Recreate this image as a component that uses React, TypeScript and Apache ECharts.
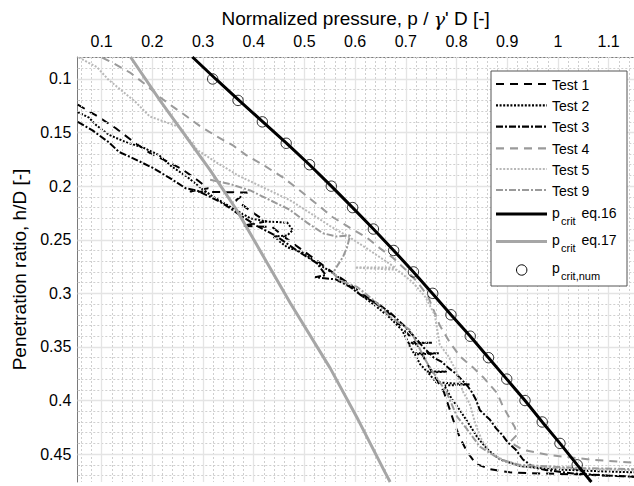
import React, { useEffect, useRef } from "react";
import * as echarts from "echarts";

const FONT = "'Liberation Sans', Arial, Helvetica, sans-serif";

// axis ranges
const X_MIN = 0.052;
const X_MAX = 1.15;
const Y_MIN = 0.0795;
const Y_MAX = 0.476;

// tick labels / ticks
const xMajorTicks = [0.1, 0.2, 0.3, 0.4, 0.5, 0.6, 0.7, 0.8, 0.9, 1, 1.1];
const yMajorTicks = [0.1, 0.15, 0.2, 0.25, 0.3, 0.35, 0.4, 0.45];
const xMinorTicks = Array.from({ length: 55 }, (_, i) => +(0.06 + i * 0.02).toFixed(2)).filter(
  (v) => v < X_MAX && Math.abs(v * 10 - Math.round(v * 10)) > 1e-6
);
const yMinorTicks = Array.from({ length: 40 }, (_, i) => +(0.08 + i * 0.01).toFixed(2)).filter(
  (v) => v < Y_MAX && Math.abs(v * 20 - Math.round(v * 20)) > 1e-6
);

// measured curves: [p/(gamma' D), h/D]
const test1 = [
  [0.053, 0.124], [0.089, 0.134], [0.128, 0.146], [0.164, 0.159], [0.195, 0.169], [0.225, 0.176],
  [0.258, 0.184], [0.288, 0.194], [0.31, 0.202], [0.274, 0.205], [0.387, 0.206], [0.365, 0.213],
  [0.396, 0.224], [0.424, 0.233], [0.377, 0.237], [0.436, 0.238], [0.462, 0.248], [0.491, 0.258],
  [0.523, 0.269], [0.554, 0.28], [0.582, 0.289], [0.61, 0.299], [0.637, 0.308], [0.665, 0.318],
  [0.688, 0.33], [0.712, 0.342], [0.728, 0.353], [0.74, 0.364], [0.759, 0.379], [0.775, 0.392],
  [0.787, 0.409], [0.797, 0.423], [0.807, 0.435], [0.821, 0.448], [0.838, 0.459], [0.866, 0.464],
  [0.905, 0.467], [0.965, 0.468], [1.043, 0.469], [1.15, 0.471],
];
const test2 = [
  [0.053, 0.131], [0.075, 0.136], [0.089, 0.143], [0.114, 0.152], [0.148, 0.159], [0.182, 0.164],
  [0.213, 0.171], [0.239, 0.182], [0.268, 0.191], [0.294, 0.201], [0.32, 0.21], [0.353, 0.219],
  [0.393, 0.23], [0.426, 0.233], [0.466, 0.234], [0.477, 0.241], [0.466, 0.246], [0.438, 0.247],
  [0.466, 0.257], [0.497, 0.262], [0.525, 0.272], [0.556, 0.281], [0.586, 0.292], [0.613, 0.302],
  [0.641, 0.312], [0.669, 0.323], [0.692, 0.334], [0.705, 0.346], [0.752, 0.346], [0.705, 0.347],
  [0.716, 0.356], [0.765, 0.356], [0.718, 0.357], [0.728, 0.366], [0.742, 0.373], [0.781, 0.373],
  [0.744, 0.374], [0.76, 0.383], [0.826, 0.385], [0.776, 0.386], [0.79, 0.398], [0.808, 0.41],
  [0.826, 0.423], [0.842, 0.435], [0.862, 0.446], [0.886, 0.455], [0.925, 0.461], [0.984, 0.464],
  [1.083, 0.466], [1.15, 0.467],
];
const test3 = [
  [0.053, 0.14], [0.082, 0.148], [0.114, 0.159], [0.134, 0.168], [0.162, 0.174], [0.201, 0.183],
  [0.233, 0.192], [0.266, 0.202], [0.288, 0.204], [0.314, 0.21], [0.339, 0.216], [0.373, 0.227],
  [0.406, 0.237], [0.446, 0.247], [0.485, 0.26], [0.525, 0.272], [0.542, 0.283], [0.521, 0.285],
  [0.562, 0.287], [0.59, 0.294], [0.615, 0.303], [0.643, 0.309], [0.669, 0.318], [0.694, 0.329],
  [0.716, 0.34], [0.736, 0.351], [0.755, 0.36], [0.771, 0.364], [0.785, 0.37], [0.799, 0.375],
  [0.811, 0.381], [0.821, 0.386], [0.83, 0.392], [0.838, 0.399], [0.846, 0.409], [0.866, 0.418],
  [0.878, 0.426], [0.89, 0.432], [0.901, 0.439], [0.917, 0.446], [0.931, 0.455], [0.951, 0.462],
  [0.978, 0.465], [1.03, 0.468], [1.097, 0.47], [1.15, 0.471],
];
const test4 = [
  [0.101, 0.08], [0.122, 0.085], [0.156, 0.094], [0.189, 0.106], [0.215, 0.117], [0.241, 0.126],
  [0.268, 0.135], [0.294, 0.144], [0.325, 0.153], [0.359, 0.162], [0.385, 0.171], [0.418, 0.18],
  [0.458, 0.192], [0.491, 0.204], [0.525, 0.217], [0.556, 0.229], [0.59, 0.239], [0.623, 0.248],
  [0.649, 0.258], [0.675, 0.267], [0.702, 0.279], [0.722, 0.289], [0.744, 0.303], [0.755, 0.316],
  [0.767, 0.33], [0.787, 0.346], [0.807, 0.359], [0.832, 0.369], [0.852, 0.378], [0.88, 0.393],
  [0.892, 0.406], [0.915, 0.425], [0.919, 0.432], [0.905, 0.439], [0.931, 0.446], [0.984, 0.451],
  [1.063, 0.455], [1.15, 0.458],
];
const test5 = [
  [0.055, 0.08], [0.091, 0.089], [0.114, 0.101], [0.14, 0.111], [0.168, 0.122], [0.195, 0.135],
  [0.225, 0.14], [0.254, 0.145], [0.288, 0.166], [0.327, 0.178], [0.373, 0.191], [0.418, 0.201],
  [0.471, 0.213], [0.511, 0.225], [0.55, 0.237], [0.59, 0.248], [0.629, 0.26], [0.679, 0.276],
  [0.6, 0.276], [0.682, 0.278], [0.712, 0.289], [0.738, 0.303], [0.757, 0.32], [0.767, 0.348],
  [0.783, 0.358], [0.799, 0.372], [0.813, 0.392], [0.826, 0.403], [0.838, 0.423], [0.85, 0.437],
  [0.866, 0.449], [0.899, 0.457], [0.931, 0.462], [0.998, 0.463], [1.15, 0.465],
];
const test9 = [
  [0.314, 0.194], [0.353, 0.198], [0.393, 0.204], [0.432, 0.213], [0.471, 0.222], [0.505, 0.234],
  [0.537, 0.244], [0.564, 0.247], [0.59, 0.246], [0.584, 0.257], [0.576, 0.266], [0.564, 0.275],
  [0.556, 0.281], [0.57, 0.288], [0.604, 0.294], [0.643, 0.309], [0.669, 0.322], [0.708, 0.334],
  [0.742, 0.365], [0.781, 0.393], [0.801, 0.415], [0.821, 0.427], [0.846, 0.443], [0.886, 0.455],
  [0.925, 0.46], [1.043, 0.463], [1.15, 0.464],
];

// analytical curves
const eq16H = [0.0795, 0.1, 0.12, 0.14, 0.16, 0.18, 0.2, 0.22, 0.24, 0.26, 0.28, 0.3, 0.32, 0.34, 0.36, 0.38, 0.4, 0.42, 0.44, 0.46, 0.476];
const eq16P = [0.279, 0.325, 0.371, 0.418, 0.465, 0.51, 0.553, 0.595, 0.636, 0.676, 0.715, 0.752, 0.789, 0.827, 0.863, 0.899, 0.935, 0.969, 1.004, 1.038, 1.066];
const eq17H = [0.0795, 0.12, 0.185, 0.222, 0.309, 0.37, 0.418, 0.467, 0.476];
const eq17P = [0.157, 0.215, 0.314, 0.366, 0.472, 0.551, 0.606, 0.659, 0.669];

// numerical results
const numH = [0.1, 0.12, 0.14, 0.16, 0.18, 0.2, 0.22, 0.24, 0.26, 0.28, 0.3, 0.32, 0.34, 0.36, 0.38, 0.4, 0.42, 0.44, 0.46];
const numP = [0.319, 0.369, 0.417, 0.464, 0.51, 0.553, 0.595, 0.636, 0.676, 0.715, 0.753, 0.789, 0.827, 0.863, 0.899, 0.935, 0.969, 1.004, 1.038];

const zip = (a: number[], b: number[]) => a.map((v, i) => [v, b[i]]);

const GRAY = "#9a9a9a";
const LIGHT = "#b8b8b8";

const testStyles = [
  { name: "Test 1", data: test1, color: "#000", dash: [8, 6] },
  { name: "Test 2", data: test2, color: "#000", dash: [2, 1.6] },
  { name: "Test 3", data: test3, color: "#000", dash: [7, 2, 2, 2] },
  { name: "Test 4", data: test4, color: GRAY, dash: [8, 6] },
  { name: "Test 5", data: test5, color: LIGHT, dash: [2, 1.6] },
  { name: "Test 9", data: test9, color: GRAY, dash: [7, 2, 2, 2] },
];

function buildLegend() {
  const els: any[] = [];
  const L = 491, T = 71;
  els.push({
    type: "rect",
    shape: { x: L, y: T, width: 136, height: 215 },
    style: { fill: "#fff", stroke: "#555", lineWidth: 1 },
    z: 100,
  });
  const rowY = [84, 105.3, 126.7, 148.3, 169, 190];
  testStyles.forEach((s, i) => {
    els.push({
      type: "line",
      shape: { x1: 496, y1: rowY[i], x2: 547, y2: rowY[i] },
      style: { stroke: s.color, lineWidth: 2.2, lineDash: s.dash },
      z: 101,
    });
    els.push({
      type: "text",
      x: 552,
      y: rowY[i] + 0.5,
      style: { text: s.name, fontSize: 14, fontFamily: FONT, fill: "#000", align: "left", verticalAlign: "middle" },
      z: 101,
    });
  });
  const sub = (x: number, yBase: number, main: string, subTxt: string, rest: string) => {
    els.push({
      type: "text", x, y: yBase - 4.9,
      style: { text: main, fontSize: 14, fontFamily: FONT, fill: "#000", align: "left", verticalAlign: "middle" }, z: 101,
    });
    els.push({
      type: "text", x: x + 9, y: yBase + 7 - 3.85,
      style: { text: subTxt, fontSize: 11, fontFamily: FONT, fill: "#000", align: "left", verticalAlign: "middle" }, z: 101,
    });
    if (rest) {
      els.push({
        type: "text", x: x + 29.5, y: yBase - 4.9,
        style: { text: rest, fontSize: 14, fontFamily: FONT, fill: "#000", align: "left", verticalAlign: "middle" }, z: 101,
      });
    }
  };
  els.push({ type: "line", shape: { x1: 496, y1: 214, x2: 547, y2: 214 }, style: { stroke: "#000", lineWidth: 3 }, z: 101 });
  sub(552, 217.5, "p", "crit", "eq.16");
  els.push({ type: "line", shape: { x1: 496, y1: 241.5, x2: 547, y2: 241.5 }, style: { stroke: "#a6a6a6", lineWidth: 3 }, z: 101 });
  sub(552, 244.5, "p", "crit", "eq.17");
  els.push({ type: "circle", shape: { cx: 521.7, cy: 270, r: 5.2 }, style: { fill: "none", stroke: "#000", lineWidth: 1 }, z: 101 });
  sub(552, 273, "p", "crit,num", "");
  return els;
}

export default function App() {
  const ref = useRef<HTMLDivElement>(null);
  useEffect(() => {
    if (!ref.current) return;
    const chart = echarts.init(ref.current, undefined, { renderer: "svg" });
    const axisBase = { type: "value" as const, min: X_MIN, max: X_MAX };
    const yBase = { type: "value" as const, min: Y_MIN, max: Y_MAX, inverse: true };
    const gridSeries = (axis: "xAxis" | "yAxis", vals: number[], style: any) => ({
      type: "line",
      data: [],
      silent: true,
      z: 1,
      markLine: {
        silent: true,
        symbol: ["none", "none"],
        label: { show: false },
        emphasis: { disabled: true },
        animation: false,
        lineStyle: style,
        data: vals.map((v) => ({ [axis]: v })),
      },
    });
    const minorStyle = { color: "#cfcfcf", width: 1, type: [2, 2] };
    const majorStyle = { color: "#e4e4e4", width: 1.3, type: "solid" };
    const option: any = {
      animation: false,
      backgroundColor: "#fff",
      grid: { left: 77.3, right: 0, top: 57, bottom: 4, containLabel: false },
      xAxis: [
        {
          ...axisBase,
          position: "top",
          name: "Normalized pressure, p / {g|γ}' D [-]",
          nameLocation: "middle",
          nameGap: 29,
          nameTextStyle: {
            fontSize: 19, color: "#000", fontFamily: FONT,
            rich: { g: { fontSize: 19, fontStyle: "italic", fontFamily: "'DejaVu Serif', serif", color: "#000" } },
          },
          axisLine: { show: true, lineStyle: { color: "#7a7a7a", width: 1 } },
          axisTick: { show: true, inside: true, length: 2, customValues: xMinorTicks, lineStyle: { color: "#000", width: 1 } },
          axisLabel: { show: true, customValues: xMajorTicks, margin: 8, fontSize: 16, color: "#000", fontFamily: FONT },
          splitLine: { show: false },
        },
        {
          ...axisBase,
          position: "top",
          axisLine: { show: false },
          axisTick: { show: true, inside: true, length: 5, customValues: xMajorTicks, lineStyle: { color: "#000", width: 1 } },
          axisLabel: { show: false },
          splitLine: { show: false },
        },
      ],
      yAxis: [
        {
          ...yBase,
          position: "left",
          name: "Penetration ratio, h/D [-]",
          nameLocation: "middle",
          nameGap: 46,
          nameTextStyle: { fontSize: 19, color: "#000", fontFamily: FONT },
          axisLine: { show: true, lineStyle: { color: "#7a7a7a", width: 1 } },
          axisTick: { show: true, inside: true, length: 2, customValues: yMinorTicks, lineStyle: { color: "#000", width: 1 } },
          axisLabel: { show: true, customValues: yMajorTicks, margin: 6, fontSize: 16, color: "#000", fontFamily: FONT },
          splitLine: { show: false },
        },
        {
          ...yBase,
          position: "left",
          axisLine: { show: false },
          axisTick: { show: true, inside: true, length: 5, customValues: yMajorTicks, lineStyle: { color: "#000", width: 1 } },
          axisLabel: { show: false },
          splitLine: { show: false },
        },
      ],
      series: [
        gridSeries("xAxis", xMinorTicks, minorStyle),
        gridSeries("yAxis", yMinorTicks, minorStyle),
        gridSeries("xAxis", xMajorTicks, majorStyle),
        gridSeries("yAxis", yMajorTicks, majorStyle),
        ...testStyles.map((s, i) => ({
          name: s.name,
          type: "line",
          data: s.data,
          symbol: "none",
          z: 3 + i,
          silent: true,
          lineStyle: { color: s.color, width: 2, type: s.dash },
        })),
        {
          name: "p_crit eq.17",
          type: "line",
          data: zip(eq17P, eq17H),
          symbol: "none",
          z: 10,
          silent: true,
          lineStyle: { color: "#a6a6a6", width: 3 },
        },
        {
          name: "p_crit eq.16",
          type: "line",
          data: zip(eq16P, eq16H),
          symbol: "none",
          z: 11,
          silent: true,
          lineStyle: { color: "#000", width: 3 },
        },
        {
          name: "p_crit,num",
          type: "scatter",
          data: zip(numP, numH),
          symbol: "circle",
          symbolSize: 10.4,
          z: 12,
          silent: true,
          itemStyle: { color: "rgba(0,0,0,0)", borderColor: "#000", borderWidth: 1 },
        },
      ],
      graphic: buildLegend(),
    };
    chart.setOption(option);
    return () => chart.dispose();
  }, []);
  return <div ref={ref} style={{ position: "absolute", left: 0, top: 0, width: 634, height: 486 }} />;
}
